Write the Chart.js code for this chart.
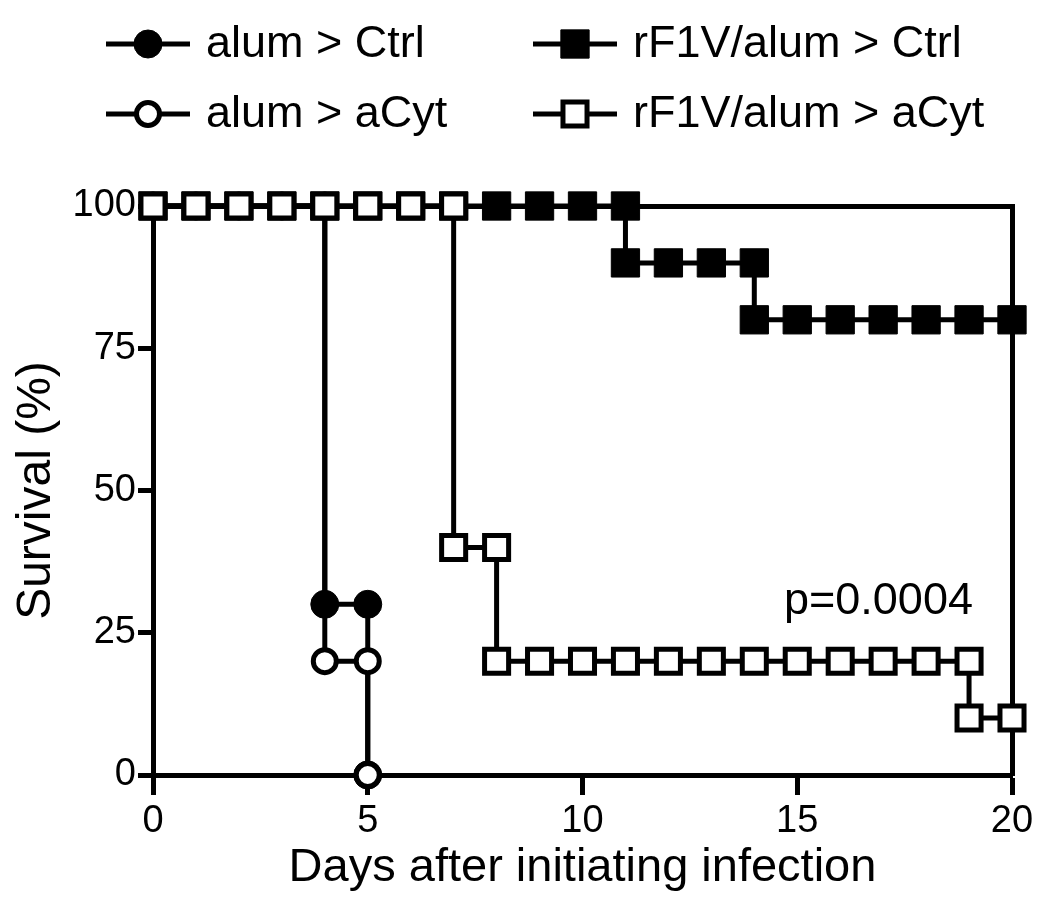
<!DOCTYPE html>
<html>
<head>
<meta charset="utf-8">
<script src="https://cdn.jsdelivr.net/npm/chart.js@4"></script>
<style>
  body { margin: 0; background: #fff; }
  #wrap { width: 1050px; height: 914px; }
</style>
</head>
<body>
<div id="wrap"><canvas id="survivalChart" width="1050" height="914"></canvas></div>
<script>
// Data survival (Kaplan-Meier)
const alumCtrlDays = [0, 1, 2, 3, 4, 4, 5, 5];
const alumCtrlSurv = [100, 100, 100, 100, 100, 30, 30, 0];

const alumCytDays = [0, 1, 2, 3, 4, 4, 5, 5];
const alumCytSurv = [100, 100, 100, 100, 100, 20, 20, 0];

const f1vCtrlDays = [0, 1, 2, 3, 4, 5, 6, 7, 8, 9, 10, 11, 11, 12, 13, 14, 14, 15, 16, 17, 18, 19, 20];
const f1vCtrlSurv = [100, 100, 100, 100, 100, 100, 100, 100, 100, 100, 100, 100, 90, 90, 90, 90, 80, 80, 80, 80, 80, 80, 80];

const f1vCytDays = [0, 1, 2, 3, 4, 5, 6, 7, 7, 8, 8, 9, 10, 11, 12, 13, 14, 15, 16, 17, 18, 19, 19, 20];
const f1vCytSurv = [100, 100, 100, 100, 100, 100, 100, 100, 40, 40, 20, 20, 20, 20, 20, 20, 20, 20, 20, 20, 20, 20, 10, 10];

const seriesLabels = ['alum > Ctrl', 'alum > aCyt', 'rF1V/alum > Ctrl', 'rF1V/alum > aCyt'];
const yTicks = [0, 25, 50, 75, 100];
const xTicks = [0, 5, 10, 15, 20];
const pValueText = 'p=0.0004';

const FONT = "'Liberation Sans', Arial, Helvetica, sans-serif";

function toPoints(days, surv) {
    return days.map((d, i) => ({ x: d, y: surv[i] }));
}

// gaya umum untuk setiap seri
function makeSeries(label, days, surv, style, radius, fill, border, order) {
    return {
        label: label,
        data: toPoints(days, surv),
        borderColor: '#000',
        borderWidth: 5,
        pointStyle: style,
        pointRadius: radius,
        pointHoverRadius: radius,
        pointBackgroundColor: fill,
        pointBorderColor: '#000',
        pointBorderWidth: border,
        tension: 0,
        clip: false,
        order: order,
    };
}

const datasets = [
    makeSeries(seriesLabels[0], alumCtrlDays, alumCtrlSurv, 'circle', 14, '#000', 1, 4),
    makeSeries(seriesLabels[1], alumCytDays, alumCytSurv, 'circle', 11.5, '#fff', 5, 3),
    makeSeries(seriesLabels[2], f1vCtrlDays, f1vCtrlSurv, 'rect', 20, '#000', 1, 2),
    makeSeries(seriesLabels[3], f1vCytDays, f1vCytSurv, 'rect', 17, '#fff', 5, 1),
];

// legenda dan nilai p digambar manual
const extras = {
    id: 'extras',
    afterDraw(chart) {
        const ctx = chart.ctx;
        const cols = [148, 575];
        const rows = [44, 114];
        const place = [[0, 0], [0, 1], [1, 0], [1, 1]];
        ctx.save();
        datasets.forEach((ds, i) => {
            const cx = cols[place[i][0]];
            const cy = rows[place[i][1]];
            ctx.strokeStyle = '#000';
            ctx.lineWidth = 5;
            ctx.beginPath();
            ctx.moveTo(cx - 42, cy);
            ctx.lineTo(cx + 42, cy);
            ctx.stroke();
            ctx.fillStyle = ds.pointBackgroundColor;
            ctx.lineWidth = ds.pointBorderWidth;
            ctx.beginPath();
            if (ds.pointStyle === 'circle') {
                ctx.arc(cx, cy, ds.pointRadius, 0, Math.PI * 2);
            } else {
                const s = ds.pointRadius * Math.SQRT1_2;
                ctx.rect(cx - s, cy - s, 2 * s, 2 * s);
            }
            ctx.fill();
            ctx.stroke();
            ctx.fillStyle = '#000';
            ctx.font = '45px ' + FONT;
            ctx.textBaseline = 'alphabetic';
            ctx.textAlign = 'left';
            ctx.fillText(ds.label, cx + 58, cy + 13);
        });
        ctx.font = '45px ' + FONT;
        ctx.fillText(pValueText, 784, 614);
        ctx.restore();
    }
};

const axisBase = {
    type: 'linear',
    border: { display: true, color: '#000', width: 5 },
    grid: { display: true, drawOnChartArea: false, drawTicks: true, color: '#000', tickColor: '#000', tickWidth: 5 },
};

new Chart(document.getElementById('survivalChart').getContext('2d'), {
    type: 'line',
    data: { datasets: datasets },
    plugins: [extras],
    options: {
        responsive: false,
        animation: false,
        events: [],
        layout: { padding: { top: 206, right: 38, left: 0, bottom: 0 } },
        plugins: { legend: { display: false }, tooltip: { enabled: false } },
        scales: {
            x: {
                ...axisBase,
                position: 'bottom',
                min: 0,
                max: 20,
                z: 1,
                grid: { ...axisBase.grid, tickLength: 20 },
                afterBuildTicks: s => { s.ticks = xTicks.map(v => ({ value: v })); },
                afterFit: s => { s.height = 139; },
                ticks: { color: '#000', padding: 4, maxRotation: 0, font: { family: FONT, size: 38 } },
                title: { display: true, text: 'Days after initiating infection', color: '#000', font: { family: FONT, size: 47 }, padding: { top: 0, bottom: 18 } },
            },
            y: {
                ...axisBase,
                position: 'left',
                min: 0,
                max: 100,
                z: 1,
                grid: { ...axisBase.grid, tickLength: 15 },
                afterBuildTicks: s => { s.ticks = yTicks.map(v => ({ value: v })); },
                afterFit: s => { s.width = 153; },
                ticks: { color: '#000', padding: 2, font: { family: FONT, size: 38 } },
                title: { display: true, text: 'Survival (%)', color: '#000', font: { family: FONT, size: 48 }, padding: { top: 8, bottom: 0 } },
            },
            // bingkai atas dan kanan
            xTop: {
                ...axisBase,
                position: 'top',
                min: 0,
                max: 20,
                z: 0,
                grid: { display: false },
                ticks: { display: false },
                afterFit: s => { s.height = 0; },
            },
            yRight: {
                ...axisBase,
                position: 'right',
                min: 0,
                max: 100,
                z: 1,
                grid: { display: false },
                ticks: { display: false },
                afterFit: s => { s.width = 0; },
            },
        },
    },
});
</script>
</body>
</html>
